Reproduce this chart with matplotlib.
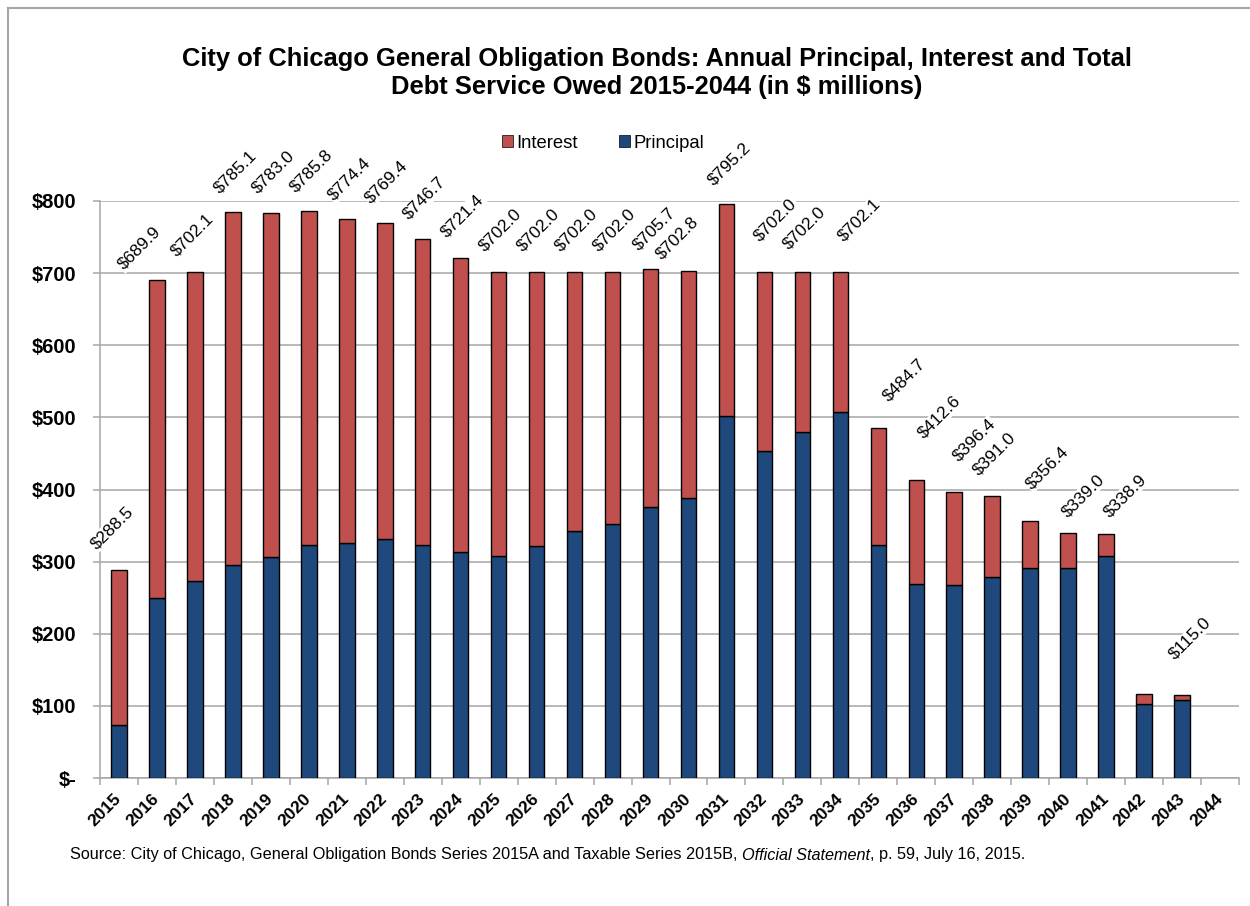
import matplotlib
matplotlib.use("Agg")
import matplotlib.pyplot as plt
from matplotlib.lines import Line2D
from matplotlib.patches import Patch
import numpy as np

plt.rcParams['font.family'] = ['Liberation Sans', 'DejaVu Sans']

# ---------------- data ----------------
years = ["2015", "2016", "2017", "2018", "2019", "2020", "2021", "2022", "2023", "2024",
         "2025", "2026", "2027", "2028", "2029", "2030", "2031", "2032", "2033", "2034",
         "2035", "2036", "2037", "2038", "2039", "2040", "2041", "2042", "2043", "2044"]

principal = [73.0, 249.0, 273.0, 295.0, 307.0, 322.6, 326.0, 331.0, 323.5, 313.8,
             307.8, 321.6, 342.5, 352.2, 375.3, 388.2, 502.3, 453.8, 480.2, 507.9,
             323.0, 268.5, 267.6, 278.2, 290.7, 290.7, 307.8, 102.2, 108.1, np.nan]

interest = [215.5, 440.9, 429.1, 490.1, 476.0, 463.2, 448.4, 438.4, 423.2, 407.6,
            394.2, 380.4, 359.5, 349.8, 330.4, 314.6, 292.9, 248.2, 221.8, 194.2,
            161.7, 144.1, 128.8, 112.8, 65.7, 48.3, 31.1, 13.6, 6.9, np.nan]

total_labels = [288.5, 689.9, 702.1, 785.1, 783.0, 785.8, 774.4, 769.4, 746.7, 721.4,
                702.0, 702.0, 702.0, 702.0, 705.7, 702.8, 795.2, 702.0, 702.0, 702.1,
                484.7, 412.6, 396.4, 391.0, 356.4, 339.0, 338.9, None, 115.0, None]

# label placement offsets (pixels, from the top of each bar) - styling only
label_offsets = [(-7, 42), (-18, 32), (-3, 37), (2, 40), (2, 41), (3, 40), (3, 40), (2, 41),
                 (2, 41), (2, 42), (2, 42), (2, 42), (2, 42), (2, 42), (4, 40), (-11, 33),
                 (3, 41), (11, 52), (2, 44), (19, 52), (26, 48), (23, 63), (20, 52), (2, 42),
                 (17, 53), (15, 38), (19, 38), (0, 40), (8, 57), (0, 40)]

yticks = [0, 100, 200, 300, 400, 500, 600, 700, 800]
ytick_labels = ["$-", "$100", "$200", "$300", "$400", "$500", "$600", "$700", "$800"]

title = ("City of Chicago General Obligation Bonds: Annual Principal, Interest and Total\n"
         "Debt Service Owed 2015-2044 (in $ millions)")

RED = "#C0504D"
BLUE = "#1F497D"
GRID = "#A6A6A6"

W, H = 1250, 906
fig = plt.figure(figsize=(W / 100, H / 100), dpi=100)
ax = fig.add_axes([100 / W, 1 - 778 / H, (1239 - 100) / W, (778 - 201) / H])

x = np.arange(len(years))
p = np.array(principal, dtype=float)
it = np.array(interest, dtype=float)
valid = ~np.isnan(p)

bw = 0.41
ax.bar(x[valid], p[valid], width=bw, color=BLUE, edgecolor="black", linewidth=1.0, zorder=3)
ax.bar(x[valid], it[valid], bottom=p[valid], width=bw, color=RED, edgecolor="black",
       linewidth=1.0, zorder=3)

for i, lab in enumerate(total_labels):
    if lab is None:
        continue
    top = p[i] + it[i]
    dx, dy = label_offsets[i]
    ax.annotate(f"${lab:.1f}", xy=(x[i], top), xytext=(dx, dy), textcoords="offset pixels",
                ha="center", va="center", rotation=45, fontsize=12.5, color="black",
                bbox=dict(boxstyle="square,pad=0.05", fc="white", ec="none"),
                annotation_clip=False, zorder=6)

ax.set_ylim(0, 800)
ax.set_xlim(-0.5, len(years) - 0.5)
ax.set_yticks(yticks)
ax.set_yticklabels(ytick_labels, fontsize=14.5, fontweight="bold")
ax.yaxis.grid(True, color=GRID, linewidth=1.1, zorder=0)
ax.set_axisbelow(True)

ax.set_xticks(np.arange(-0.5, len(years), 1.0))
ax.set_xticklabels([])
ax.set_xticks(x, minor=True)
ax.set_xticklabels(years, minor=True, rotation=45, ha="right", va="center",
                   rotation_mode="anchor", fontsize=12.5, fontweight="bold")
ax.tick_params(axis="x", which="major", length=5, color=GRID, width=1.1, direction="out")
ax.tick_params(axis="x", which="minor", length=0, pad=13)
ax.tick_params(axis="y", length=5, color=GRID, width=1.1, pad=12)
for lbl in ax.get_xticklabels(minor=True):
    lbl.set_x(lbl.get_position()[0])

for s in ["top", "right"]:
    ax.spines[s].set_visible(False)
for s in ["left", "bottom"]:
    ax.spines[s].set_color(GRID)
    ax.spines[s].set_linewidth(1.1)

# title
fig.text(657 / W, 1 - 73 / H, title, ha="center", va="center", fontsize=18.4,
         fontweight="bold", linespacing=1.25)

# legend
handles = [Patch(facecolor=RED, edgecolor="black", linewidth=0.5, label="Interest"),
           Patch(facecolor=BLUE, edgecolor="black", linewidth=0.5, label="Principal")]
fig.legend(handles=handles, loc="center", bbox_to_anchor=(603 / W, 1 - 143 / H), ncol=2,
           frameon=False, fontsize=13.3, handlelength=0.6, handleheight=0.6,
           handletextpad=0.2, columnspacing=2.2)

# frame lines
fig.add_artist(Line2D([8 / W, 8 / W], [0, 1 - 8 / H], transform=fig.transFigure,
                      color="#A6A6A6", linewidth=1.5))
fig.add_artist(Line2D([8 / W, 1], [1 - 8 / H, 1 - 8 / H], transform=fig.transFigure,
                      color="#A6A6A6", linewidth=1.5))

# source note with italic part
fig.canvas.draw()
renderer = fig.canvas.get_renderer()
src_parts = [("Source: City of Chicago, General Obligation Bonds Series 2015A and Taxable Series 2015B, ", "normal"),
             ("Official Statement", "italic"),
             (", p. 59, July 16, 2015.", "normal")]
xpos = 70
for txt, style in src_parts:
    t = fig.text(xpos / W, 1 - 855 / H, txt, ha="left", va="center", fontsize=11.7,
                 fontstyle=style, color="black")
    bb = t.get_window_extent(renderer=renderer)
    xpos += bb.width

fig.savefig("out.png", dpi=100)
